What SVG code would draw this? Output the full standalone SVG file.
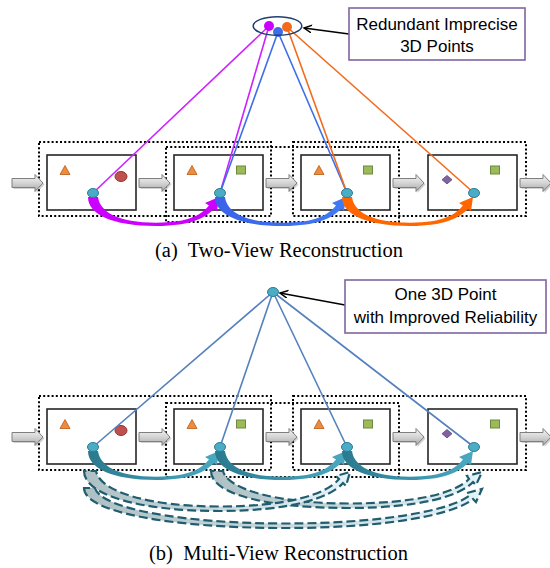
<svg xmlns="http://www.w3.org/2000/svg" width="550" height="568" viewBox="0 0 550 568">
<defs>
<style>
.dot{fill:none;stroke:#000;stroke-width:2;stroke-dasharray:2 2.2}
.frame{fill:#fff;stroke:#262626;stroke-width:1.6}
.tri{fill:#f08a3c;stroke:#b85a14;stroke-width:0.8}
.red{fill:#c0504d;stroke:#8c3836;stroke-width:1}
.grn{fill:#9bbb59;stroke:#6f8a3c;stroke-width:1}
.dia{fill:#8064a2;stroke:#5c4776;stroke-width:0.8}
.pt{fill:#4bacc6;stroke:#2c7f95;stroke-width:1}
.barrow{fill:url(#gArrow);stroke:#7f7f7f;stroke-width:1}
.bshadow{fill:#000;opacity:0.18}
.lbl{fill:#fff;stroke:#8064a2;stroke-width:1.6}
.lt{font-family:"Liberation Sans",Arial,sans-serif;font-size:17px;fill:#000;text-anchor:middle}
.cap{font-family:"Liberation Serif","Times New Roman",serif;font-size:20.5px;fill:#000}
.ln{fill:none;stroke-width:1.6}
.dash{fill:url(#gDash);stroke:#215d6e;stroke-width:2.2;stroke-dasharray:9 4}
</style>
<linearGradient id="gArrow" x1="0" y1="0" x2="0" y2="1">
<stop offset="0" stop-color="#f7f7f7"/><stop offset="0.5" stop-color="#d4d4d4"/><stop offset="1" stop-color="#a8a8a8"/>
</linearGradient>
<linearGradient id="gTeal" x1="0" y1="0" x2="1" y2="0">
<stop offset="0" stop-color="#2a7a8e"/><stop offset="1" stop-color="#4aa9c2"/>
</linearGradient>
<linearGradient id="gBlue" x1="0" y1="0" x2="1" y2="0">
<stop offset="0" stop-color="#3a62e8"/><stop offset="1" stop-color="#3f7bf5"/>
</linearGradient>
<linearGradient id="gDash" x1="0" y1="0" x2="1" y2="0">
<stop offset="0" stop-color="#adc0c4"/><stop offset="1" stop-color="#e2f4f9"/>
</linearGradient>
<marker id="ah" markerWidth="10" markerHeight="10" refX="8" refY="4" orient="auto" markerUnits="userSpaceOnUse">
<path d="M0,0 L8,4 L0,8" fill="none" stroke="#000" stroke-width="1.5"/>
</marker>
<path id="barrowShape" d="M0,-4.5 H23 V-8.5 L31,0 L23,8.5 V4.5 H0 Z"/>
<path id="arc" d="M88,197 C88,214 112,226 156,226 C192,226 206,217 214,209 L217,211 L219,197 L205,203 L209,205.5 C202,214 190,222.7 156,222.7 C118,222.7 100,212 98,197 Z"/>
</defs>

<!-- ===== Part (a) ===== -->
<g id="a-dotted">
<rect class="dot" x="39" y="142" width="232" height="74"/>
<rect class="dot" x="166" y="147" width="233" height="75"/>
<rect class="dot" x="293" y="142" width="233" height="74"/>
</g>
<g id="a-frame1"><rect class="frame" x="47" y="155" width="89" height="55"/>
<polygon class="tri" points="65,165.5 70,174.5 60,174.5"/><ellipse class="red" cx="121" cy="176.5" rx="6" ry="5"/></g>
<g id="a-frame2"><rect class="frame" x="174" y="155" width="89" height="55"/>
<polygon class="tri" points="192,165.5 197,174.5 187,174.5"/><rect class="grn" x="236.5" y="166" width="9" height="8"/></g>
<g id="a-frame3"><rect class="frame" x="301" y="155" width="89" height="55"/>
<polygon class="tri" points="319,165.5 324,174.5 314,174.5"/><rect class="grn" x="363.5" y="166" width="9" height="8"/></g>
<g id="a-frame4"><rect class="frame" x="428" y="155" width="89" height="55"/>
<polygon class="dia" points="447,175.5 452,179.7 447,183.9 442,179.7"/><rect class="grn" x="490.5" y="166" width="9" height="8"/></g>
<g id="a-blockarrows">
<use href="#barrowShape" class="bshadow" transform="translate(13.5,184.5)"/><use href="#barrowShape" class="barrow" transform="translate(12,183)"/>
<use href="#barrowShape" class="bshadow" transform="translate(140.5,184.5)"/><use href="#barrowShape" class="barrow" transform="translate(139,183)"/>
<use href="#barrowShape" class="bshadow" transform="translate(267.5,184.5)"/><use href="#barrowShape" class="barrow" transform="translate(266,183)"/>
<use href="#barrowShape" class="bshadow" transform="translate(394.5,184.5)"/><use href="#barrowShape" class="barrow" transform="translate(393,183)"/>
<use href="#barrowShape" class="bshadow" transform="translate(521.5,184.5)"/><use href="#barrowShape" class="barrow" transform="translate(520,183)"/>
</g>
<g id="a-connectors">
<line class="ln" stroke="#cc22ff" x1="269" y1="26" x2="93" y2="193"/>
<line class="ln" stroke="#cc22ff" x1="269" y1="26" x2="220" y2="193"/>
<line class="ln" stroke="#3d6ee8" x1="278" y1="32" x2="220" y2="193"/>
<line class="ln" stroke="#3d6ee8" x1="278" y1="32" x2="347" y2="193"/>
<line class="ln" stroke="#f26b1d" x1="287" y1="27" x2="347" y2="193"/>
<line class="ln" stroke="#f26b1d" x1="287" y1="27" x2="474" y2="193"/>
<use href="#arc" fill="#cc00ff"/>
<use href="#arc" fill="url(#gBlue)" transform="translate(127,0)"/>
<use href="#arc" fill="#ff6600" transform="translate(254,0)"/>
<line x1="349" y1="34" x2="304" y2="28" stroke="#000" stroke-width="1.5" marker-end="url(#ah)"/>
</g>
<g id="a-points">
<ellipse class="pt" cx="93" cy="193" rx="5.5" ry="4.5"/>
<ellipse class="pt" cx="220" cy="193" rx="5.5" ry="4.5"/>
<ellipse class="pt" cx="347" cy="193" rx="5.5" ry="4.5"/>
<ellipse class="pt" cx="474" cy="193" rx="5.5" ry="4.5"/>
</g>
<g id="a-3dpoints">
<circle cx="269" cy="26" r="5" fill="#cc00ff"/>
<circle cx="287" cy="27" r="5" fill="#f26b1d"/>
<circle cx="278" cy="32" r="5" fill="#3d6ee8"/>
<ellipse cx="277.5" cy="26" rx="24.3" ry="9.3" fill="none" stroke="#1f3f6e" stroke-width="1.5"/>
</g>
<g id="a-label">
<rect class="lbl" x="349" y="8" width="176" height="52"/>
<text class="lt" x="437" y="30">Redundant Imprecise</text>
<text class="lt" x="437" y="52">3D Points</text>
</g>
<text class="cap" x="155" y="257" xml:space="preserve">(a)  Two-View Reconstruction</text>

<!-- ===== Part (b) ===== -->
<g id="b-dotted">
<rect class="dot" x="39" y="396" width="232" height="74"/>
<rect class="dot" x="166" y="403" width="233" height="74"/>
<rect class="dot" x="293" y="396" width="233" height="74"/>
</g>
<g id="b-frame1"><rect class="frame" x="47" y="409" width="89" height="55"/>
<polygon class="tri" points="65,419.5 70,428.5 60,428.5"/><ellipse class="red" cx="121" cy="430.5" rx="6" ry="5"/></g>
<g id="b-frame2"><rect class="frame" x="174" y="409" width="89" height="55"/>
<polygon class="tri" points="192,419.5 197,428.5 187,428.5"/><rect class="grn" x="236.5" y="420" width="9" height="8"/></g>
<g id="b-frame3"><rect class="frame" x="301" y="409" width="89" height="55"/>
<polygon class="tri" points="319,419.5 324,428.5 314,428.5"/><rect class="grn" x="363.5" y="420" width="9" height="8"/></g>
<g id="b-frame4"><rect class="frame" x="428" y="409" width="89" height="55"/>
<polygon class="dia" points="447,429.5 452,433.7 447,437.9 442,433.7"/><rect class="grn" x="490.5" y="420" width="9" height="8"/></g>
<g id="b-blockarrows">
<use href="#barrowShape" class="bshadow" transform="translate(13.5,438.5)"/><use href="#barrowShape" class="barrow" transform="translate(12,437)"/>
<use href="#barrowShape" class="bshadow" transform="translate(140.5,438.5)"/><use href="#barrowShape" class="barrow" transform="translate(139,437)"/>
<use href="#barrowShape" class="bshadow" transform="translate(267.5,438.5)"/><use href="#barrowShape" class="barrow" transform="translate(266,437)"/>
<use href="#barrowShape" class="bshadow" transform="translate(394.5,438.5)"/><use href="#barrowShape" class="barrow" transform="translate(393,437)"/>
<use href="#barrowShape" class="bshadow" transform="translate(521.5,438.5)"/><use href="#barrowShape" class="barrow" transform="translate(520,437)"/>
</g>
<g id="b-connectors">
<line class="ln" stroke="#5481bd" x1="273" y1="292" x2="93" y2="447"/>
<line class="ln" stroke="#5481bd" x1="273" y1="292" x2="220" y2="447"/>
<line class="ln" stroke="#5481bd" x1="273" y1="292" x2="347" y2="447"/>
<line class="ln" stroke="#5481bd" x1="273" y1="292" x2="474" y2="447"/>
<path class="dash" d="M84,488 C84,512 170,528 285,528 C390,528 455,514 473,499 L476,502 L482,489 L467,493 L469,496 C450,510 385,523.5 285,523.5 C180,523.5 100,508 95,488 Z"/>
<path class="dash" d="M211,471 C211,495 270,508 348,508 C420,508 460,496 473,482 L476,485 L482,472 L467,476 L469,479 C456,493 415,503.5 348,503.5 C280,503.5 228,490 223,471 Z"/>
<path class="dash" d="M84,471 C84,495 140,511 219,511 C290,511 330,498 343,483 L346,486 L350,472 L336,476 L339,479 C326,495 285,506.5 219,506.5 C150,506.5 100,492 96,471 Z"/>
<use href="#arc" fill="url(#gTeal)" transform="translate(0,254)"/>
<use href="#arc" fill="url(#gTeal)" transform="translate(127,254)"/>
<use href="#arc" fill="url(#gTeal)" transform="translate(254,254)"/>
<line x1="345" y1="305" x2="280" y2="293" stroke="#000" stroke-width="1.5" marker-end="url(#ah)"/>
</g>
<g id="b-points">
<ellipse class="pt" cx="93" cy="447" rx="5.5" ry="4.5"/>
<ellipse class="pt" cx="220" cy="447" rx="5.5" ry="4.5"/>
<ellipse class="pt" cx="347" cy="447" rx="5.5" ry="4.5"/>
<ellipse class="pt" cx="474" cy="447" rx="5.5" ry="4.5"/>
<ellipse class="pt" cx="273" cy="292" rx="5.5" ry="4.5"/>
</g>
<g id="b-label">
<rect class="lbl" x="345" y="280" width="201" height="53"/>
<text class="lt" x="445.5" y="300">One 3D Point</text>
<text class="lt" x="445.5" y="323">with Improved Reliability</text>
</g>
<text class="cap" x="149" y="560" xml:space="preserve">(b)  Multi-View Reconstruction</text>
</svg>
